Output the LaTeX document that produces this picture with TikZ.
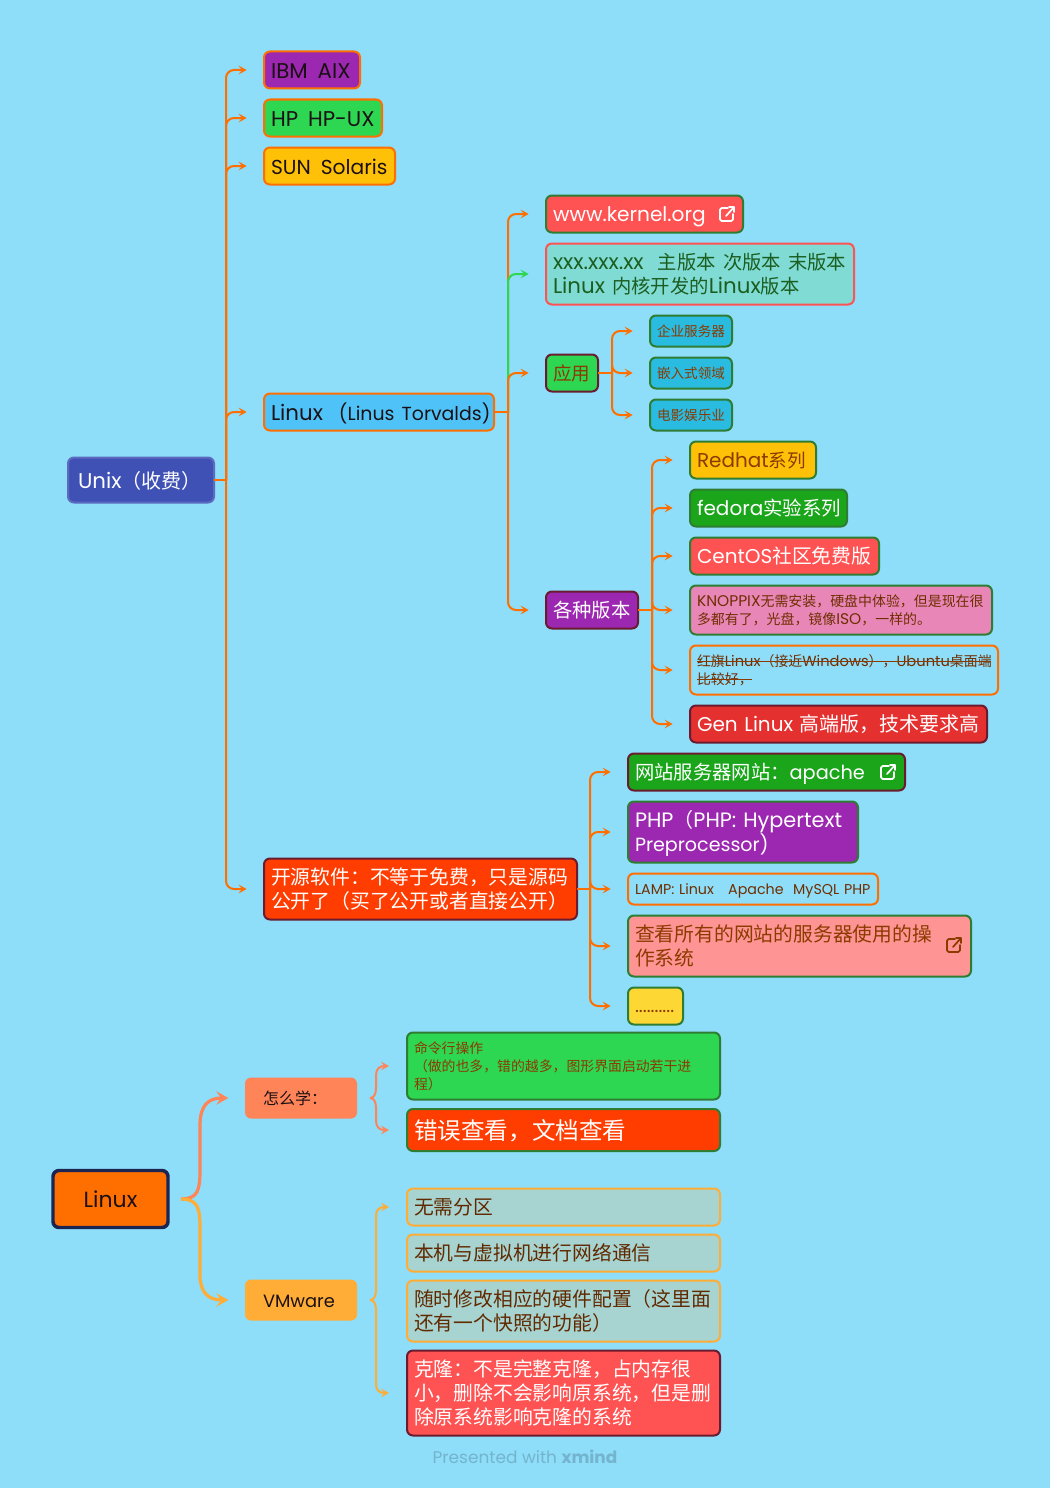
\documentclass[tikz,border=0pt]{standalone}
\usepackage{fontspec}
\setmainfont{Poppins}
\newfontfamily\cjk{Noto Sans CJK SC}
\newcommand{\zh}[1]{{\cjk #1}}
\newcommand{\zhs}[2]{{\cjk\fontsize{#1}{\baselineskip}\selectfont #2}}
\newcommand{\lats}[2]{{\fontsize{#1}{\baselineskip}\selectfont #2}}
\usetikzlibrary{arrows.meta}
\definecolor{skybg}{HTML}{8EDDF9}
\definecolor{orangeln}{HTML}{FF6F00}
\definecolor{greenln}{HTML}{2E7D32}
\definecolor{maroonln}{HTML}{6A1B2F}
\definecolor{coralln}{HTML}{FF8558}
\definecolor{amberln}{HTML}{FFAD36}
\definecolor{limeln}{HTML}{2DD752}
\definecolor{purplebx}{HTML}{9C27B0}
\definecolor{ambbx}{HTML}{FFC107}
\definecolor{bluebx}{HTML}{4FC3F7}
\definecolor{indigobx}{HTML}{3F51B5}
\definecolor{redbx}{HTML}{FF5252}
\definecolor{tealbx}{HTML}{80DBD4}
\definecolor{cyanbx}{HTML}{29BBE0}
\definecolor{grassbx}{HTML}{1AA51A}
\definecolor{pinkbx}{HTML}{E986B8}
\definecolor{crimsonbx}{HTML}{E53030}
\definecolor{firebx}{HTML}{FF3D00}
\definecolor{salmonbx}{HTML}{FF9494}
\definecolor{yellowbx}{HTML}{FDD835}
\definecolor{greybx}{HTML}{A7D3D0}
\definecolor{browntx}{HTML}{8B3A00}
\definecolor{darktx}{HTML}{1B1015}
\definecolor{mossT}{HTML}{1B5E20}
\definecolor{footT}{HTML}{74B4CE}
\tikzset{
  x=0.75pt,y=-0.75pt,
  tbox/.style={rectangle,rounded corners=4.5pt,line width=1.5pt,anchor=west,align=left,
    inner xsep=5.25pt,inner ysep=0pt,outer sep=0pt,text=darktx,
    execute at begin node=\leavevmode\rule{0pt}{0.85\baselineskip},
    execute at end node=\rule[-0.2\baselineskip]{0pt}{0.5\baselineskip}},
  boxsize/.style 2 args={text width=#1*0.75pt-10.5pt,minimum height=#2*0.75pt},
  padded/.style 2 args={inner xsep=13.5pt,text width=#1*0.75pt-27pt,minimum height=#2*0.75pt},
  txt/.style 2 args={font=\fontsize{#1}{#2}\selectfont},
  stem/.style={orangeln,line width=1.5pt},
  link/.style={orangeln,line width=1.5pt,rounded corners=6pt,shorten >=13pt,
    -{Stealth[length=6pt,width=6.5pt,inset=2.5pt]}},
  bigcurve/.style={line width=2.4pt,shorten <=9.75pt,shorten >=12.5pt,
    -{Stealth[length=9pt,width=10pt,inset=3.5pt]}},
  smallcurve/.style={line width=1.5pt,shorten <=9.75pt,shorten >=13.5pt,
    -{Stealth[length=6pt,width=6.5pt,inset=2.5pt]}},
  extlink/.pic={
    \draw[line width=1.3pt,line cap=round,line join=round,rounded corners=1.2pt]
      (1,-6) -- (-7,-6) -- (-7,7) -- (6,7) -- (6,0);
    \draw[line width=1.3pt,line cap=round,line join=round] (-1,2) -- (7,-7) (2,-7) -- (7,-7) -- (7,-2);
  }
}
\begin{document}
\begin{tikzpicture}
\fill[skybg] (0,0) rectangle (1050,1488);
\useasboundingbox (0,0) rectangle (1050,1488);
% first map
\node[tbox,boxsize={146}{45},fill=indigobx,txt={16pt}{19pt},text=white,draw=indigobx!85!white] (unix) at (68,480) {\hspace*{2.25pt}Unix\zhs{15pt}{（收费）}};
\node[tbox,boxsize={96}{37},fill=purplebx,draw=orangeln,txt={16pt}{19pt}] (ibm) at (264,70) {\mbox{IBM\hspace{7.5pt}AIX}};
\node[tbox,boxsize={118}{37},fill=limeln,draw=orangeln,txt={16pt}{19pt}] (hp) at (264,118) {\mbox{HP\hspace{7.5pt}HP-UX}};
\node[tbox,boxsize={131}{37},fill=ambbx,draw=orangeln,txt={15.2pt}{19pt}] (sun) at (264,166) {\mbox{SUN\hspace{7.5pt}Solaris}};
\node[tbox,boxsize={230}{37},fill=bluebx,draw=orangeln,txt={16pt}{19pt}] (torvalds) at (264,412) {\mbox{Linux\hspace{12pt}\lats{14.2pt}{(Linus Torvalds)}}};
\node[tbox,boxsize={313}{61},fill=firebx,draw=maroonln,txt={14.85pt}{18pt},text=white] (opensrc) at (264,889) {\zh{开源软件：不等于免费，只是源码}\\\zh{公开了（买了公开或者直接公开）}};
% linux branch
\node[tbox,boxsize={197}{37},fill=redbx,draw=greenln,txt={15.1pt}{18pt},text=white] (kernel) at (546,214) {www.kernel.org};
\node[tbox,boxsize={308}{61},fill=tealbx,draw=redbx,txt={16pt}{18pt},text=mossT] (version) at (546,274) {\mbox{xxx.xxx.xx\ \ \zhs{14.5pt}{主版本 次版本 末版本}}\\Linux \zhs{14.5pt}{内核开发的}Linux\zhs{14.5pt}{版本}};
\node[tbox,boxsize={52}{37},fill=limeln,draw=maroonln,txt={13.9pt}{18pt},text=browntx] (usage) at (546,373) {\zh{应用}};
\node[tbox,boxsize={92}{37},fill=purplebx,draw=maroonln,txt={14.5pt}{18pt},text=white] (distro) at (546,610) {\mbox{\zh{各种版本}}};
% usage
\node[tbox,boxsize={82}{31},fill=cyanbx,draw=greenln,txt={10.2pt}{13pt},text=browntx] (server) at (650,331) {\mbox{\zh{企业服务器}}};
\node[tbox,boxsize={82}{31},fill=cyanbx,draw=greenln,txt={10.2pt}{13pt},text=browntx] (embed) at (650,373) {\mbox{\zh{嵌入式领域}}};
\node[tbox,boxsize={82}{31},fill=cyanbx,draw=greenln,txt={10.2pt}{13pt},text=browntx] (film) at (650,415) {\mbox{\zh{电影娱乐业}}};
% distributions
\node[tbox,boxsize={126}{37},fill=ambbx,draw=greenln,txt={15pt}{18pt},text=browntx] (redhat) at (690,460) {\mbox{Redhat\zhs{13.9pt}{系列}}};
\node[tbox,boxsize={157}{37},fill=grassbx,draw=greenln,txt={15pt}{18pt},text=white] (fedora) at (690,508) {\mbox{fedora\zhs{14.6pt}{实验系列}}};
\node[tbox,boxsize={189}{37},fill=redbx,draw=greenln,txt={15pt}{18pt},text=white] (centos) at (690,556) {\mbox{CentOS\zhs{14.85pt}{社区免费版}}};
\node[tbox,boxsize={302}{49},fill=pinkbx,draw=greenln,txt={11.6pt}{13.5pt},text=browntx!80!black] (knoppix) at (690,610) {\mbox{KNOPPIX\zhs{10.45pt}{无需安装，硬盘中体验，但是现在很}}\\\zhs{10.45pt}{多都有了，光盘，镜像}ISO\zhs{10.45pt}{，一样的。}};
\node[tbox,boxsize={308}{49},draw=orangeln,txt={11pt}{13.5pt},text=browntx!80!black] (redflag) at (690,670) {\mbox{\zhs{10.45pt}{红旗}Linux\zhs{10.45pt}{（接近}Windows\zhs{10.45pt}{），}Ubuntu\zhs{10.45pt}{桌面端}}\\\zhs{10.45pt}{比较好，}};
\node[tbox,boxsize={297}{37},fill=crimsonbx,draw=maroonln,txt={15pt}{18pt},text=white] (gen) at (690,724) {\mbox{Gen Linux \zh{高端版，技术要求高}}};
% strike-through on the crossed-out topic
\draw[browntx,line width=0.8pt] (697,661.5) -- (991,661.5) (697,679.5) -- (752,679.5);
% open source
\node[tbox,boxsize={277}{37},fill=grassbx,draw=maroonln,txt={14.5pt}{18pt},text=white] (apache) at (628,772) {\mbox{\zh{网站服务器网站：}apache}};
\node[tbox,boxsize={230}{61},fill=purplebx,draw=greenln,txt={15.6pt}{18pt},text=white] (php) at (628,832) {\mbox{PHP\zhs{15pt}{（}PHP: Hypertext}\\\lats{14.3pt}{Preprocessor)}};
\node[tbox,boxsize={250}{31},draw=orangeln,txt={10.7pt}{13pt},text=browntx!80!black] (lamp) at (628,889) {\mbox{LAMP: Linux\ \ \ Apache\ \ MySQL PHP}};
\node[tbox,boxsize={343}{61},fill=salmonbx,draw=greenln,txt={14.85pt}{18pt},text=browntx] (osuse) at (628,946) {\zh{查看所有的网站的服务器使用的操}\\\zh{作系统}};
\node[tbox,boxsize={55}{37},fill=yellowbx,draw=greenln,txt={14pt}{16pt},text=browntx] (dots) at (628,1006) {..........};
% second map
\node[tbox,boxsize={115}{57},fill=orangeln,draw=indigobx!45!black,line width=2.6pt,align=center,txt={16.5pt}{19pt}] (linux) at (53,1199) {Linux};
\node[tbox,padded={112}{41},fill=coralln,txt={12pt}{14pt}] (howto) at (245,1098) {\zh{怎么学：}};
\node[tbox,padded={112}{41},fill=amberln,txt={13.4pt}{17pt}] (vmware) at (245,1300) {VMware};
\node[tbox,boxsize={313}{67},fill=limeln,draw=greenln,txt={10.4pt}{13.5pt},text=browntx] (cmdline) at (407,1066) {\zh{命令行操作}\\\zh{（做的也多，错的越多，图形界面启动若干进}\\\zh{程）}};
\node[tbox,boxsize={313}{42},fill=firebx,draw=greenln,txt={17.7pt}{21pt},text=white] (errdoc) at (407,1130) {\zh{错误查看，文档查看}};
\node[tbox,boxsize={313}{37},fill=greybx,draw=amberln,txt={14.85pt}{18pt},text=browntx!70!black] (nopart) at (407,1207) {\zh{无需分区}};
\node[tbox,boxsize={313}{37},fill=greybx,draw=amberln,txt={14.85pt}{18pt},text=browntx!70!black] (hostnet) at (407,1253) {\zh{本机与虚拟机进行网络通信}};
\node[tbox,boxsize={313}{61},fill=greybx,draw=amberln,txt={14.85pt}{18pt},text=browntx!70!black] (hwconf) at (407,1311) {\zh{随时修改相应的硬件配置（这里面}\\\zh{还有一个快照的功能）}};
\node[tbox,boxsize={313}{85},fill=redbx,draw=maroonln,txt={14.85pt}{18pt},text=white] (clone) at (407,1393) {\zh{克隆：不是完整克隆，占内存很}\\\zh{小，删除不会影响原系统，但是删}\\\zh{除原系统影响克隆的系统}};
\node[txt={12.7pt}{16pt},text=footT] (foot) at (525,1457) {Presented with \textbf{xmind}};
% icons
\pic[white] at (727,214) {extlink};
\pic[white] at (888,772) {extlink};
\pic[browntx] at (954,945) {extlink};
% connectors
\coordinate (ux) at (226,480);
\draw[stem] (unix.east) -- (ux);
\foreach \t in {ibm,hp,sun,torvalds,opensrc}
  \draw[link] (ux) |- (\t.west);
\coordinate (lx) at (508,412);
\draw[stem] (torvalds.east) -- (lx);
\draw[link] (lx) |- (kernel.west);
\draw[link,limeln] (lx) |- (version.west);
\draw[link] (lx) |- (usage.west);
\draw[link] (lx) |- (distro.west);
\coordinate (ax) at (612,373);
\draw[stem] (usage.east) -- (ax);
\foreach \t in {server,embed,film}
  \draw[link] (ax) |- (\t.west);
\coordinate (dx) at (652,610);
\draw[stem] (distro.east) -- (dx);
\foreach \t in {redhat,fedora,centos,knoppix,redflag,gen}
  \draw[link] (dx) |- (\t.west);
\coordinate (ox) at (590,889);
\draw[stem] (opensrc.east) -- (ox);
\foreach \t in {apache,php,lamp,osuse,dots}
  \draw[link] (ox) |- (\t.west);
% curved ones
\draw[bigcurve,coralln] (linux.east) .. controls (198,1199) and (200,1190) .. (200,1170) -- (200,1125) .. controls (200,1106) and (208,1098) .. (howto.west);
\draw[bigcurve,amberln] (linux.east) .. controls (198,1199) and (200,1208) .. (200,1228) -- (200,1275) .. controls (200,1292) and (208,1300) .. (vmware.west);
\draw[smallcurve,coralln] (howto.east) .. controls (374,1098) and (376,1094) .. (376,1088) -- (376,1076) .. controls (376,1069) and (379,1066) .. (cmdline.west);
\draw[smallcurve,coralln] (howto.east) .. controls (374,1098) and (376,1102) .. (376,1108) -- (376,1120) .. controls (376,1127) and (379,1130) .. (errdoc.west);
\draw[smallcurve,amberln] (vmware.east) .. controls (374,1300) and (376,1296) .. (376,1290) -- (376,1216) .. controls (376,1210) and (379,1207) .. (nopart.west);
\draw[smallcurve,amberln] (vmware.east) .. controls (374,1300) and (376,1304) .. (376,1310) -- (376,1384) .. controls (376,1390) and (379,1393) .. (clone.west);
\end{tikzpicture}
\end{document}
